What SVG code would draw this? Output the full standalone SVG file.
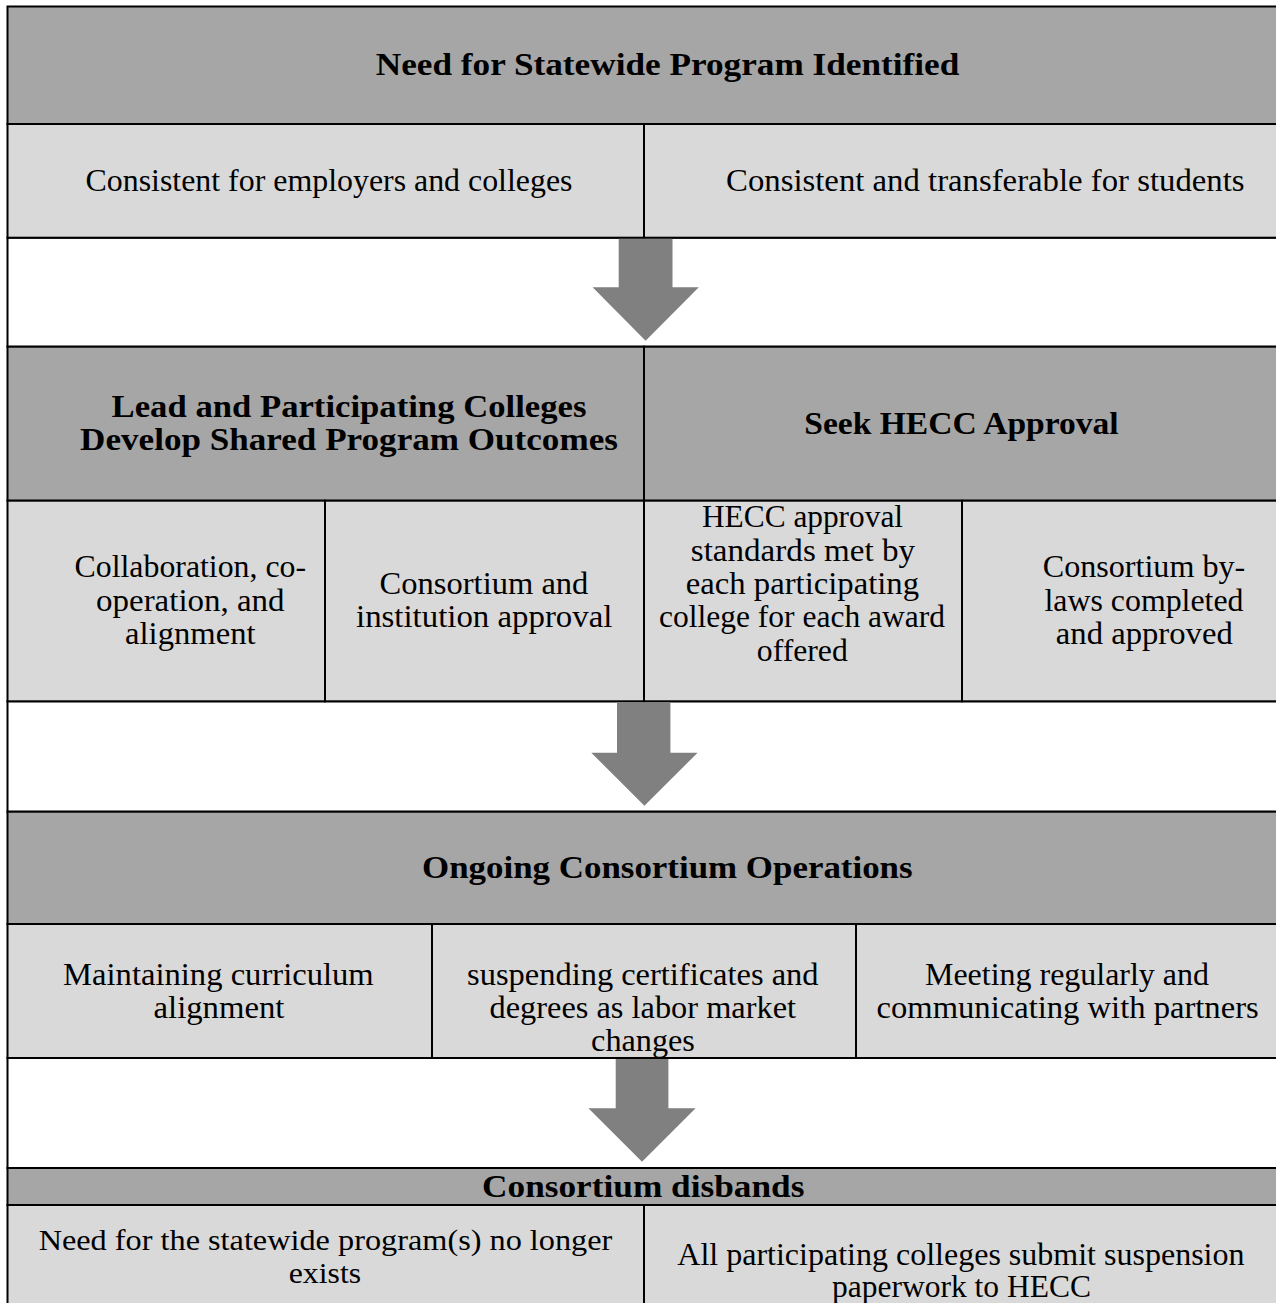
<svg xmlns="http://www.w3.org/2000/svg" width="1276" height="1303" viewBox="0 0 1276 1303">
<style>
.hd{fill:#a6a6a6;stroke:#000;stroke-width:2}
.sb{fill:#d9d9d9;stroke:#000;stroke-width:2}
.wb{fill:#ffffff;stroke:#000;stroke-width:2}
text{font-family:"Liberation Serif","Times New Roman",serif;font-size:31px;fill:#000;text-anchor:middle}
.b{font-weight:bold}
.s{font-size:29px}
.arrow{fill:#808080;stroke:none}
</style>
<rect x="0" y="0" width="1276" height="1303" fill="#fff"/>
<g id="frame">
<rect class="wb" x="7.5" y="237.7" width="1300" height="109"/>
<rect class="wb" x="7.5" y="701.3" width="1300" height="110.4"/>
<rect class="wb" x="7.5" y="1058" width="1300" height="110"/>
</g>
<g id="need-header">
<rect class="hd" x="7.5" y="6.5" width="1300" height="117.5"/>
<text class="b" x="667.5" y="75" textLength="583.5" lengthAdjust="spacingAndGlyphs">Need for Statewide Program Identified</text>
</g>
<g id="need-employers">
<rect class="sb" x="7.5" y="124" width="636.5" height="113.7"/>
<text x="329" y="190.5" textLength="487" lengthAdjust="spacingAndGlyphs">Consistent for employers and colleges</text>
</g>
<g id="need-students">
<rect class="sb" x="644" y="124" width="663" height="113.7"/>
<text x="985.3" y="190.5" textLength="518.5" lengthAdjust="spacingAndGlyphs">Consistent and transferable for students</text>
</g>
<g id="develop-header">
<rect class="hd" x="7.5" y="346.7" width="636.5" height="154"/>
<text class="b" x="349" y="417.3" textLength="474.8" lengthAdjust="spacingAndGlyphs">Lead and Participating Colleges</text>
<text class="b" x="349" y="450" textLength="537.8" lengthAdjust="spacingAndGlyphs">Develop Shared Program Outcomes</text>
</g>
<g id="hecc-header">
<rect class="hd" x="644" y="346.7" width="663" height="154"/>
<text class="b" x="961.5" y="434" textLength="314.4" lengthAdjust="spacingAndGlyphs">Seek HECC Approval</text>
</g>
<g id="collaboration">
<rect class="sb" x="7.5" y="500.7" width="317.5" height="200.6"/>
<text x="190.3" y="577.3" textLength="231.5" lengthAdjust="spacingAndGlyphs">Collaboration, co-</text>
<text x="190.3" y="610.7" textLength="188.5" lengthAdjust="spacingAndGlyphs">operation, and</text>
<text x="190.3" y="644" textLength="130.5" lengthAdjust="spacingAndGlyphs">alignment</text>
</g>
<g id="institution-approval">
<rect class="sb" x="325" y="500.7" width="319" height="200.6"/>
<text x="484" y="594" textLength="208.8" lengthAdjust="spacingAndGlyphs">Consortium and</text>
<text x="484.2" y="627.3" textLength="256.4" lengthAdjust="spacingAndGlyphs">institution approval</text>
</g>
<g id="hecc-standards">
<rect class="sb" x="644" y="500.7" width="318" height="200.6"/>
<text x="802.5" y="527.3" textLength="201" lengthAdjust="spacingAndGlyphs">HECC approval</text>
<text x="802.9" y="560.7" textLength="224.3" lengthAdjust="spacingAndGlyphs">standards met by</text>
<text x="802.4" y="594" textLength="233.2" lengthAdjust="spacingAndGlyphs">each participating</text>
<text x="802" y="627.3" textLength="286" lengthAdjust="spacingAndGlyphs">college for each award</text>
<text x="802.3" y="660.7" textLength="90.9" lengthAdjust="spacingAndGlyphs">offered</text>
</g>
<g id="bylaws">
<rect class="sb" x="962" y="500.7" width="345" height="200.6"/>
<text x="1144" y="577.3" textLength="202.5" lengthAdjust="spacingAndGlyphs">Consortium by-</text>
<text x="1144" y="610.7" textLength="199.1" lengthAdjust="spacingAndGlyphs">laws completed</text>
<text x="1144.3" y="644" textLength="176.9" lengthAdjust="spacingAndGlyphs">and approved</text>
</g>
<g id="ongoing-header">
<rect class="hd" x="7.5" y="811.7" width="1300" height="112.3"/>
<text class="b" x="667.3" y="878.3" textLength="490.6" lengthAdjust="spacingAndGlyphs">Ongoing Consortium Operations</text>
</g>
<g id="maintaining">
<rect class="sb" x="7.5" y="924" width="424.5" height="134"/>
<text x="218.4" y="984.5" textLength="310.7" lengthAdjust="spacingAndGlyphs">Maintaining curriculum</text>
<text x="219" y="1017.7" textLength="130.9" lengthAdjust="spacingAndGlyphs">alignment</text>
</g>
<g id="suspending">
<rect class="sb" x="432" y="924" width="424" height="134"/>
<text x="642.8" y="984.5" textLength="351.5" lengthAdjust="spacingAndGlyphs">suspending certificates and</text>
<text x="642.8" y="1017.7" textLength="306.5" lengthAdjust="spacingAndGlyphs">degrees as labor market</text>
<text x="643" y="1050.8" textLength="103.8" lengthAdjust="spacingAndGlyphs">changes</text>
</g>
<g id="meeting">
<rect class="sb" x="856" y="924" width="451" height="134"/>
<text x="1067" y="984.5" textLength="284" lengthAdjust="spacingAndGlyphs">Meeting regularly and</text>
<text x="1067.6" y="1017.7" textLength="382.2" lengthAdjust="spacingAndGlyphs">communicating with partners</text>
</g>
<g id="disbands-header">
<rect class="hd" x="7.5" y="1168" width="1300" height="37"/>
<text class="b" x="643.2" y="1196.7" textLength="322.3" lengthAdjust="spacingAndGlyphs">Consortium disbands</text>
</g>
<g id="no-longer-exists">
<rect class="sb" x="7.5" y="1205" width="636.5" height="120"/>
<text class="s" x="325.5" y="1249.5" textLength="573.7" lengthAdjust="spacingAndGlyphs">Need for the statewide program(s) no longer</text>
<text class="s" x="324.9" y="1282.5" textLength="72.3" lengthAdjust="spacingAndGlyphs">exists</text>
</g>
<g id="suspension-paperwork">
<rect class="sb" x="644" y="1205" width="663" height="120"/>
<text x="960.9" y="1265" textLength="567.2" lengthAdjust="spacingAndGlyphs">All participating colleges submit suspension</text>
<text x="961.5" y="1297" textLength="259.1" lengthAdjust="spacingAndGlyphs">paperwork to HECC</text>
</g>
<g id="connectors">
<polygon class="arrow" points="618.7,238.7 672.5,238.7 672.5,287.3 698.8,287.3 645.6,340.7 592.6,287.3 618.7,287.3"/>
<polygon class="arrow" points="617,702.3 670.4,702.3 670.4,752.7 697.6,752.7 644.4,805.7 591.3,752.7 617,752.7"/>
<polygon class="arrow" points="615.7,1059 668.4,1059 668.4,1108.3 695.6,1108.3 642,1161.7 588.4,1108.3 615.7,1108.3"/>
</g>
</svg>
